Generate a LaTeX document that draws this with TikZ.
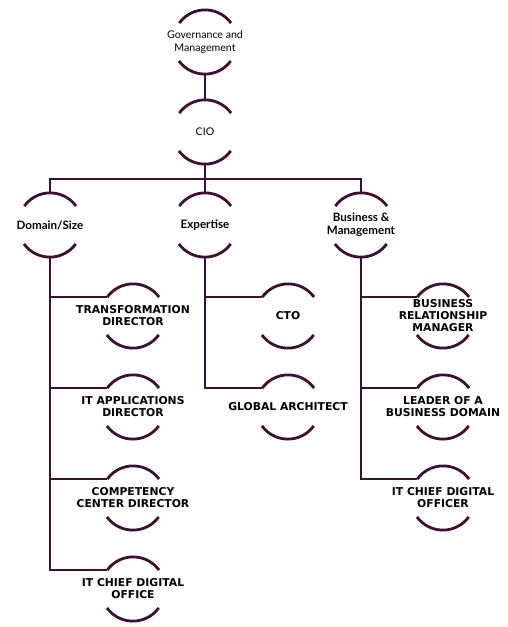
\documentclass[tikz,border=0pt]{standalone}
\usepackage{fontspec}
\setmainfont{Lato}
\newfontfamily\capsfont{DejaVu Sans}
\usepackage{tikz}

\definecolor{plum}{HTML}{3C1030}

\begin{document}
\begin{tikzpicture}[x=1pt,y=1pt,
  ring/.style={circle,minimum size=64pt,inner sep=0pt},
  top/.style={label={[align=center,font=\fontsize{10.6}{13}\selectfont]center:#1}},
  mid/.style={label={[align=center,font=\fontsize{11.6}{13}\selectfont\bfseries]center:#1}},
  low/.style={label={[align=center,font=\capsfont\fontsize{10.8}{12}\selectfont\bfseries]center:#1}},
  halo/.style={draw=plum,line width=2.8pt},
  link/.style={draw=plum,line width=2.8pt}]
\useasboundingbox (0,0) rectangle (507,-627);

% top of the tree
\node [ring,top={Governance and\\Management}] (gov) at (205,-42) {};
\node [ring,top={CIO}] (cio) at (205,-132) {};

% second level
\node [ring,mid={Domain/Size}] (dom) at (50,-225) {};
\node [ring,mid={Expertise}] (exp) at (205,-225) {};
\node [ring,mid={Business \&\\Management}] (biz) at (361,-225) {};

% left column
\node [ring,low={TRANSFORMATION\\DIRECTOR}] (tra) at (133,-316) {};
\node [ring,low={IT APPLICATIONS\\DIRECTOR}] (app) at (133,-407) {};
\node [ring,low={COMPETENCY\\CENTER DIRECTOR}] (comp) at (133,-498) {};
\node [ring,low={IT CHIEF DIGITAL\\OFFICE}] (office) at (133,-589) {};

% middle column
\node [ring,low={CTO}] (cto) at (288,-316) {};
\node [ring,low={GLOBAL ARCHITECT}] (arch) at (288,-407) {};

% right column
\node [ring,low={BUSINESS\\RELATIONSHIP\\MANAGER}] (brm) at (443,-316) {};
\node [ring,low={LEADER OF A\\BUSINESS DOMAIN}] (lead) at (443,-407) {};
\node [ring,low={IT CHIEF DIGITAL\\OFFICER}] (officer) at (443,-498) {};

% the two arcs round every node
\foreach \n in {gov,cio,dom,exp,biz,tra,app,comp,office,cto,arch,brm,lead,officer}
  \draw [halo] (\n.36) arc [start angle=36,end angle=144,radius=32pt]
               (\n.216) arc [start angle=216,end angle=324,radius=32pt];

\draw [link] (gov.south) -- (cio.north);
\coordinate (fork) at (205,-179);
\draw [link] (cio.south) -- (fork);
\draw [link] (dom.north) |- (fork) -| (biz.north);
\draw [link] (fork) -- (exp.north);

\draw [link] (dom.south) |- (office.144);
\foreach \n in {tra,app,comp} \draw [link] (dom.south |- \n.144) -- (\n.144);

\draw [link] (exp.south) |- (arch.144);
\draw [link] (exp.south |- cto.144) -- (cto.144);

\draw [link] (biz.south) |- (officer.144);
\foreach \n in {brm,lead} \draw [link] (biz.south |- \n.144) -- (\n.144);

\end{tikzpicture}
\end{document}
